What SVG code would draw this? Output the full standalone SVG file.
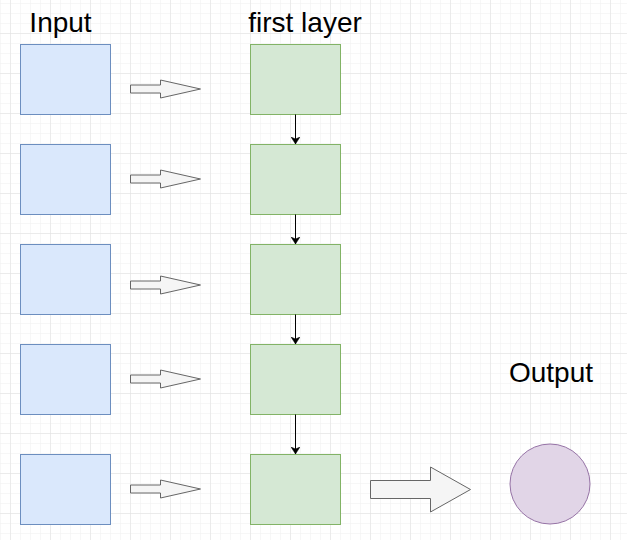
<svg xmlns="http://www.w3.org/2000/svg" width="627" height="540" viewBox="0 0 627 540">
<style>
.in{fill:#dae8fc;stroke:#6c8ebf;stroke-width:1}
.hid{fill:#d5e8d4;stroke:#82b366;stroke-width:1}
.arr{fill:#f5f5f5;stroke:#666666;stroke-width:1}
.out{fill:#e1d5e7;stroke:#9673a6;stroke-width:1}
.lbl{font-family:"Liberation Sans",Arial,sans-serif;font-size:28px;fill:#000;text-anchor:middle}
.con{stroke:#000;stroke-width:1;fill:none}
</style>
<defs>
<pattern id="minor" patternUnits="userSpaceOnUse" x="0" y="3" width="10" height="10">
<path d="M0 0H10M0 0V10" stroke="#f0f0f0" stroke-width="1" fill="none"/>
</pattern>
<pattern id="major" patternUnits="userSpaceOnUse" x="10" y="-7" width="40" height="40">
<path d="M0 0H40M0 0V40" stroke="#e0e0e0" stroke-width="1" fill="none"/>
</pattern>
<marker id="ah" markerWidth="8" markerHeight="9" refX="7" refY="4.5" orient="auto" markerUnits="userSpaceOnUse">
<path d="M0 0L7 4.5L0 9L2 4.5Z" fill="#000" stroke="#000" stroke-width="0.5"/>
</marker>
</defs>
<rect width="627" height="540" fill="#fff"/>
<rect width="627" height="540" fill="url(#minor)"/>
<rect width="627" height="540" fill="url(#major)"/>

<g id="labels">
<text class="lbl" x="60.5" y="32">Input</text>
<text class="lbl" x="305" y="32">first layer</text>
<text class="lbl" x="551" y="382">Output</text>
</g>

<g id="input1"><rect class="in" x="20.5" y="44.5" width="90" height="70"/></g>
<g id="input2"><rect class="in" x="20.5" y="144.5" width="90" height="70"/></g>
<g id="input3"><rect class="in" x="20.5" y="244.5" width="90" height="70"/></g>
<g id="input4"><rect class="in" x="20.5" y="344.5" width="90" height="70"/></g>
<g id="input5"><rect class="in" x="20.5" y="454.5" width="90" height="70"/></g>

<g id="layer1"><rect class="hid" x="250.5" y="44.5" width="90" height="70"/></g>
<g id="layer2"><rect class="hid" x="250.5" y="144.5" width="90" height="70"/></g>
<g id="layer3"><rect class="hid" x="250.5" y="244.5" width="90" height="70"/></g>
<g id="layer4"><rect class="hid" x="250.5" y="344.5" width="90" height="70"/></g>
<g id="layer5"><rect class="hid" x="250.5" y="454.5" width="90" height="70"/></g>

<g id="output"><circle class="out" cx="550" cy="484" r="40"/></g>

<g id="arrow1"><path class="arr" d="M130.5 85H160.5V80L200.5 89L160.5 98V93H130.5Z"/></g>
<g id="arrow2"><path class="arr" d="M130.5 175H160.5V170L200.5 179L160.5 188V183H130.5Z"/></g>
<g id="arrow3"><path class="arr" d="M130.5 281H160.5V276L200.5 285L160.5 294V289H130.5Z"/></g>
<g id="arrow4"><path class="arr" d="M130.5 375H160.5V370L200.5 379L160.5 388V383H130.5Z"/></g>
<g id="arrow5"><path class="arr" d="M130.5 485H160.5V480L200.5 489L160.5 498V493H130.5Z"/></g>
<g id="bigarrow"><path class="arr" d="M370.5 480.5H430.5V467L470.5 489.5L430.5 512V498.5H370.5Z"/></g>

<g id="connectors">
<line class="con" x1="295.5" y1="114.5" x2="295.5" y2="144" marker-end="url(#ah)"/>
<line class="con" x1="295.5" y1="214.5" x2="295.5" y2="244" marker-end="url(#ah)"/>
<line class="con" x1="295.5" y1="314.5" x2="295.5" y2="344" marker-end="url(#ah)"/>
<line class="con" x1="295.5" y1="414.5" x2="295.5" y2="454" marker-end="url(#ah)"/>
</g>
</svg>
